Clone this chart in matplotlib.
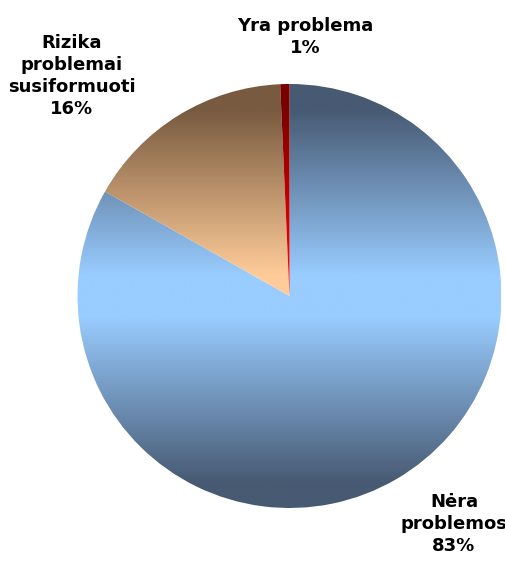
import numpy as np
import matplotlib.pyplot as plt
from matplotlib.colors import to_rgb

# data
labels = ['Nėra\nproblemos', 'Rizika\nproblemai\nsusiformuoti', 'Yra problema']
values = [83.2, 16.1, 0.7]
shown = ['83%', '16%', '1%']

# gradient colours: (edge colour at top/bottom, colour in the middle)
grads = [('#475a73', '#99ccff'), ('#785a40', '#ffcc99'), ('#7a0000', '#ff0000')]

# layout (pixel positions of the chart)
cx, cy, r = 289.5, 296, 212
label_pos = [(454, 524), (72, 76), (305, 37)]

fig = plt.figure(figsize=(5.06, 5.61), dpi=100)
ax = fig.add_axes([0, 0, 1, 1])

# y axis is flipped below, so counterclock in data = clockwise on screen
wedges, _ = ax.pie(values, startangle=-90, counterclock=True,
                   center=(cx, cy), radius=r,
                   wedgeprops=dict(linewidth=0))

ys = np.linspace(cy - r, cy + r, 400)
t = np.clip((np.abs(ys - cy) / r - 0.1) / 0.78, 0, 1)
for w, (dark, light) in zip(wedges, grads):
    d = np.array(to_rgb(dark))
    l = np.array(to_rgb(light))
    col = l[None, :] + (d - l)[None, :] * t[:, None]
    img = col[:, None, :]
    w.set_facecolor('none')
    im = ax.imshow(img, extent=(cx - r, cx + r, ys[0], ys[-1]),
                   origin='lower', aspect='auto', interpolation='bilinear',
                   zorder=1)
    im.set_clip_path(w)

for lab, s, (x, y) in zip(labels, shown, label_pos):
    ax.text(x, y, lab + '\n' + s, ha='center', va='center',
            fontsize=13, fontweight='bold', linespacing=1.3,
            family='DejaVu Sans')

ax.set_xlim(0, 506)
ax.set_ylim(561, 0)
ax.set_aspect('equal')
ax.axis('off')

fig.savefig('out.png', dpi=100)
